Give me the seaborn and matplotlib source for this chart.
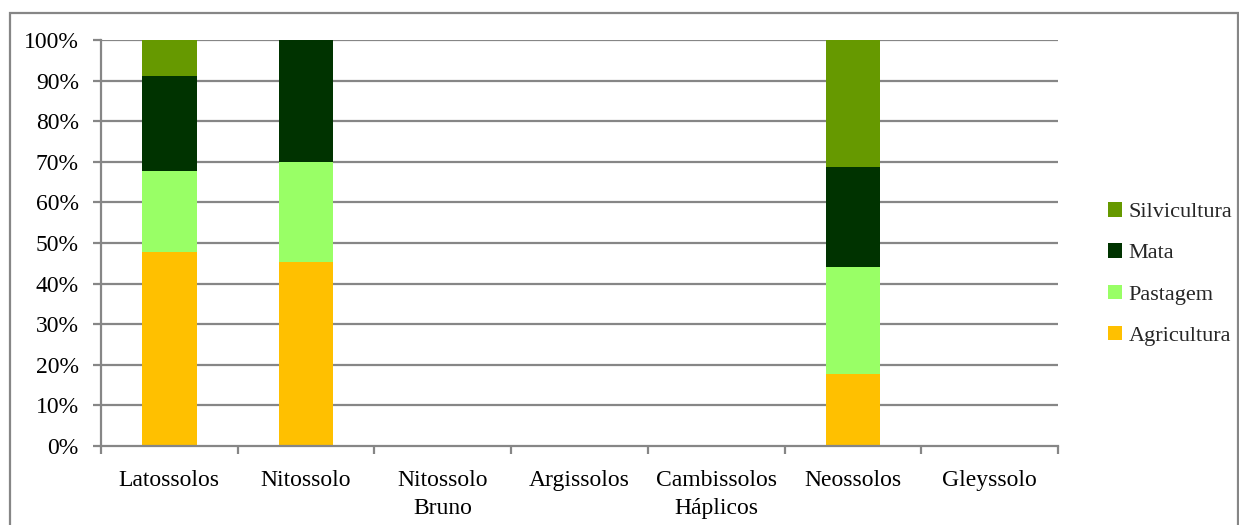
import matplotlib
matplotlib.use("Agg")
import matplotlib.pyplot as plt
from matplotlib.patches import Patch, Rectangle
from matplotlib.ticker import PercentFormatter, FixedLocator
import numpy as np
import pandas as pd
import seaborn as sns

categories = ["Latossolos", "Nitossolo", "Nitossolo\nBruno", "Argissolos",
              "Cambissolos\nHáplicos", "Neossolos", "Gleyssolo"]
agricultura = [47.7, 45.2, 0, 0, 0, 17.7, 0]
pastagem = [20.1, 24.8, 0, 0, 0, 26.3, 0]
mata = [23.3, 30.0, 0, 0, 0, 24.7, 0]
silvicultura = [8.9, 0.0, 0, 0, 0, 31.3, 0]

series_names = ["Agricultura", "Pastagem", "Mata", "Silvicultura"]
series_colors = ["#FFC000", "#99FF66", "#003300", "#669900"]

sns.set_theme(style="white")
plt.rcParams["font.family"] = ["Liberation Serif", "DejaVu Serif"]

df = pd.DataFrame({"cat": categories, "Agricultura": agricultura, "Pastagem": pastagem,
                   "Mata": mata, "Silvicultura": silvicultura})
cum = df[series_names].cumsum(axis=1)

fig = plt.figure(figsize=(12.39, 5.25), dpi=100)
ax = fig.add_axes([101 / 1239, 1 - 446 / 525, (1058 - 101) / 1239, (446 - 40) / 525])

# horizontal gridlines behind the bars
for v in range(10, 101, 10):
    ax.axhline(v, color="#868686", lw=1.6, zorder=0)

# stacked bars: draw cumulative totals from the top segment down
for name, color in zip(reversed(series_names), reversed(series_colors)):
    sns.barplot(x=df["cat"], y=cum[name], color=color, width=0.4, ax=ax,
                saturation=1, linewidth=0, zorder=2)

ax.set_ylim(0, 100)
ax.set_xlim(-0.5, len(categories) - 0.5)
ax.set_xlabel("")
ax.set_ylabel("")
ax.yaxis.set_major_locator(FixedLocator(np.arange(0, 101, 10)))
ax.yaxis.set_major_formatter(PercentFormatter(decimals=0))

for s in ["top", "right"]:
    ax.spines[s].set_visible(False)
for s in ["left", "bottom"]:
    ax.spines[s].set_color("#868686")
    ax.spines[s].set_linewidth(1.6)

ax.tick_params(axis="y", which="major", direction="out", length=6, width=1.6,
               color="#868686", labelsize=17, labelcolor="black", left=True, pad=10)
ax.tick_params(axis="x", which="major", length=0, labelsize=17, labelcolor="black", pad=17)
ax.set_xticks(range(len(categories)))
ax.set_xticklabels(categories, linespacing=1.45)
ax.xaxis.set_minor_locator(FixedLocator(np.arange(-0.5, len(categories), 1)))
ax.tick_params(axis="x", which="minor", direction="out", length=6, width=1.6,
               color="#868686", bottom=True)

handles = [Patch(facecolor=c, edgecolor="none", label=n)
           for n, c in zip(reversed(series_names), reversed(series_colors))]
fig.legend(handles=handles, loc="center left", bbox_to_anchor=(1088 / 1239, 1 - 274 / 525),
           frameon=False, fontsize=16, handlelength=0.63, handleheight=0.63,
           handletextpad=0.3, labelspacing=0.95)

# outer chart border
fig.patches.append(Rectangle((10 / 1239, -0.01), (1238 - 10) / 1239, 1 - 13 / 525 + 0.01,
                             transform=fig.transFigure, fill=False,
                             edgecolor="#868686", lw=1.6))

fig.savefig("out.png", dpi=100, facecolor="white")
